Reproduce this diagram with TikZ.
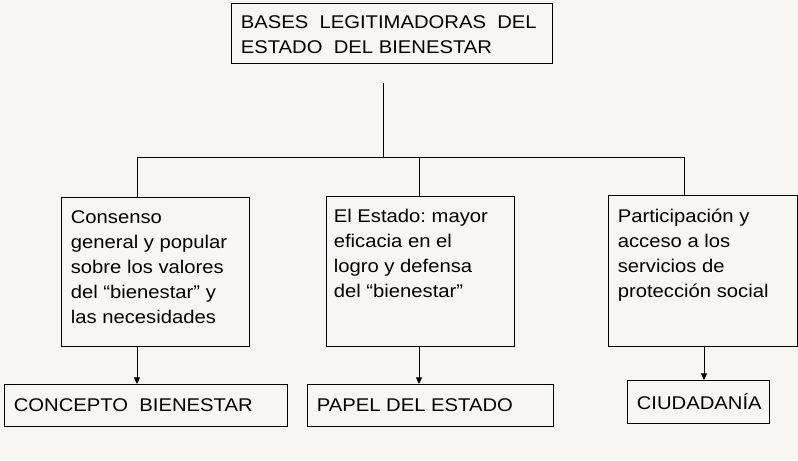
\documentclass[tikz,border=0pt]{standalone}
\usepackage{fontspec}
\setmainfont{Liberation Sans}[FakeStretch=1.1]
\usetikzlibrary{arrows.meta,calc}

\definecolor{paper}{HTML}{F7F6F4}

\begin{document}
\frenchspacing
\begin{tikzpicture}[x=0.75pt, y=-0.75pt, font=\fontsize{13.8}{18.75}\selectfont, line cap=butt, line join=miter]
    \tikzset{
        box/.style={draw=black, fill=paper, line width=0.75pt, anchor=north west, inner xsep=7pt, inner ysep=0pt, align=left},
        link/.style={draw=black, line width=0.75pt},
        arrow/.style={link, -{Triangle[length=5pt,width=4.5pt]}}
    }

    % text block of a box: height, width, first line height, lines
    \newcommand{\blocktext}[4]{\parbox[c][#1][t]{#2}{\rule{0pt}{#3}#4}}
    \newcommand{\linetext}[3]{\parbox[c][#1][c]{#2}{#3}}

    % Page
    \fill[paper] (0,0) rectangle (798,460);
    \useasboundingbox (0,0) rectangle (798,460);

    % Title
    \node[box] (title) at (231,3)
        {\blocktext{45pt}{226.75pt}{18.75pt}{BASES\ \ LEGITIMADORAS\ \ DEL\\ESTADO\ \ DEL BIENESTAR}};

    % Middle row
    \node[box] (cons) at (61,197)
        {\blocktext{111.75pt}{127pt}{19.2pt}{Consenso\\general y popular\\sobre los valores\\del “bienestar” y\\las necesidades}};
    \node[box, inner xsep=5.5pt] (state) at (326,196)
        {\blocktext{112.5pt}{130pt}{19.2pt}{El Estado: mayor\\eficacia en el\\logro y defensa\\del “bienestar”}};
    \node[box] (part) at (608,195)
        {\blocktext{113.25pt}{127.75pt}{20pt}{Participación y\\acceso a los\\servicios de\\protección social}};

    % Bottom row
    \node[box] (concept) at (4,384) {\linetext{31.5pt}{198.25pt}{CONCEPTO\ \ BIENESTAR}};
    \node[box] (role) at (307,384) {\linetext{31.5pt}{170.5pt}{PAPEL DEL ESTADO}};
    \node[box] (citizen) at (627,380) {\linetext{32.25pt}{92.5pt}{CIUDADANÍA}};

    % Tree lines
    \coordinate (trunk) at (383,83);
    \coordinate (split) at (383,157);
    \coordinate (d1) at (137,157);
    \coordinate (d2) at (419,157);
    \coordinate (d3) at (684,157);
    \coordinate (a3) at (704,157);
    \draw[link] (trunk) -- (split);
    \draw[link] (d1 |- cons.north) -- (d1) -- (d3) -- (d3 |- part.north);
    \draw[link] (d2) -- (d2 |- state.north);

    % Arrows down
    \draw[arrow] (d1 |- cons.south) -- (d1 |- concept.north);
    \draw[arrow] (d2 |- state.south) -- (d2 |- role.north);
    \draw[arrow] (a3 |- part.south) -- (a3 |- citizen.north);
\end{tikzpicture}
\end{document}
